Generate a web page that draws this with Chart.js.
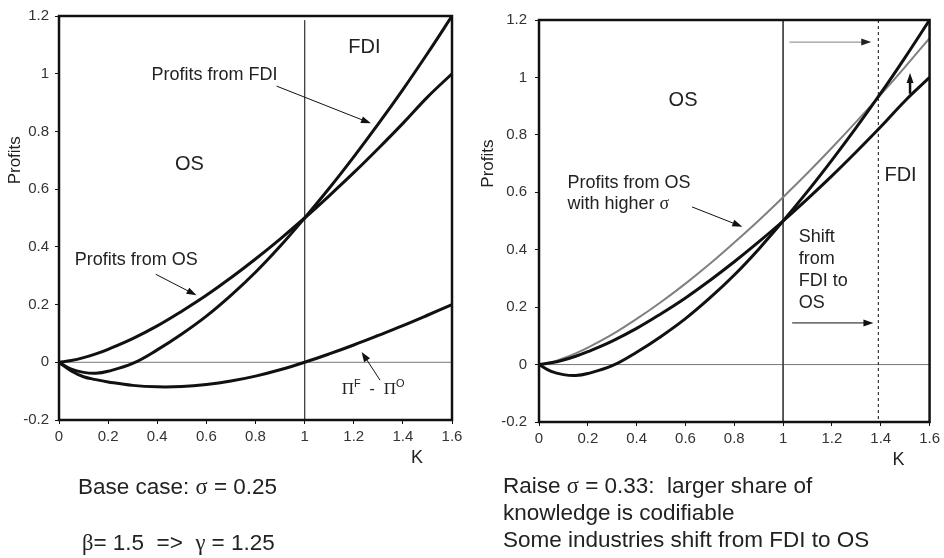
<!DOCTYPE html>
<html>
<head>
<meta charset="utf-8">
<script src="https://cdn.jsdelivr.net/npm/chart.js@4.4.1/dist/chart.umd.min.js"></script>
<style>
  body { margin: 0; background: #fff; width: 944px; height: 558px; overflow: hidden; }
  .panel { position: absolute; top: 0; height: 558px; }
  #left { left: 0; width: 470px; }
  #right { left: 470px; width: 474px; }
</style>
</head>
<body>
<div class="panel" id="left"><canvas id="chartLeft"></canvas></div>
<div class="panel" id="right"><canvas id="chartRight"></canvas></div>
<script>
const kValues     = [0, 0.05, 0.1, 0.15, 0.2, 0.3, 0.4, 0.5, 0.6, 0.7, 0.8, 0.9, 1.0, 1.1, 1.2, 1.3, 1.4, 1.5, 1.6];
const osProfits   = [0, 0.006, 0.016, 0.029, 0.045, 0.082, 0.126, 0.177, 0.232, 0.293, 0.358, 0.427, 0.5, 0.577, 0.657, 0.741, 0.828, 0.919, 1.0];
const fdiProfits  = [0, -0.024, -0.035, -0.038, -0.031, -0.004, 0.043, 0.098, 0.160, 0.232, 0.312, 0.402, 0.5, 0.603, 0.712, 0.826, 0.945, 1.07, 1.2];
const gapProfits  = [0, -0.03, -0.05, -0.06, -0.068, -0.08, -0.085, -0.084, -0.077, -0.065, -0.048, -0.026, 0, 0.029, 0.06, 0.093, 0.127, 0.163, 0.2];
const osHighSigma = [0, 0.008, 0.022, 0.039, 0.059, 0.105, 0.159, 0.218, 0.282, 0.351, 0.425, 0.502, 0.583, 0.667, 0.755, 0.846, 0.94, 1.037, 1.137];

const xTicks = [0, 0.2, 0.4, 0.6, 0.8, 1, 1.2, 1.4, 1.6];
const yTicks = [-0.2, 0, 0.2, 0.4, 0.6, 0.8, 1, 1.2];

const threshold = 1;        // K where FDI and OS profits are equal (base case)
const newThreshold = 1.39;  // K where FDI meets OS with higher sigma

const SANS = '"Liberation Sans", Arial, sans-serif';
const SERIF = '"Liberation Serif", "Times New Roman", serif';

function points(ys) {
    return kValues.map((k, i) => ({ x: k, y: ys[i] }));
}

function curve(ys, color, width) {
    return { data: points(ys), borderColor: color, borderWidth: width, pointRadius: 0, tension: 0.4, fill: false };
}

function refLine(x1, y1, x2, y2, color, dash) {
    return {
        data: [{ x: x1, y: y1 }, { x: x2, y: y2 }],
        borderColor: color, borderWidth: 1, pointRadius: 0, tension: 0,
        borderDash: dash || [], fill: false
    };
}

function drawRuns(ctx, x, y, runs) {
    let cx = x;
    runs.forEach(r => {
        ctx.font = r.font;
        ctx.fillText(r.text, cx, y - (r.raise || 0));
        cx += ctx.measureText(r.text).width;
    });
}

function drawArrow(ctx, x1, y1, x2, y2, color, width, headColor) {
    const ang = Math.atan2(y2 - y1, x2 - x1);
    const len = 10, half = 3.5;
    ctx.strokeStyle = color;
    ctx.lineWidth = width;
    ctx.beginPath();
    ctx.moveTo(x1, y1);
    ctx.lineTo(x2 - Math.cos(ang) * len * 0.8, y2 - Math.sin(ang) * len * 0.8);
    ctx.stroke();
    ctx.fillStyle = headColor || color;
    ctx.beginPath();
    ctx.moveTo(x2, y2);
    ctx.lineTo(x2 - len * Math.cos(ang) + half * Math.sin(ang), y2 - len * Math.sin(ang) - half * Math.cos(ang));
    ctx.lineTo(x2 - len * Math.cos(ang) - half * Math.sin(ang), y2 - len * Math.sin(ang) + half * Math.cos(ang));
    ctx.closePath();
    ctx.fill();
}

// notes: labels and arrows placed in data units, plus axis titles and captions
function makeNotes(cfg) {
    return {
        id: 'notes',
        afterDraw(chart) {
            const ctx = chart.ctx;
            const xs = chart.scales.x, ys = chart.scales.y;
            const area = chart.chartArea;
            ctx.save();

            // frame
            ctx.strokeStyle = '#111';
            ctx.lineWidth = 2.5;
            ctx.strokeRect(area.left, area.top, area.right - area.left, area.bottom - area.top);

            ctx.fillStyle = '#222';
            ctx.textAlign = 'left';
            ctx.textBaseline = 'middle';
            cfg.texts.forEach(t => {
                drawRuns(ctx, xs.getPixelForValue(t.k), ys.getPixelForValue(t.v), t.runs);
            });

            ctx.textBaseline = 'alphabetic';
            (cfg.baseTexts || []).forEach(t => {
                drawRuns(ctx, xs.getPixelForValue(t.k), ys.getPixelForValue(t.v), t.runs);
            });

            cfg.arrows.forEach(a => {
                drawArrow(ctx,
                    xs.getPixelForValue(a.from[0]), ys.getPixelForValue(a.from[1]),
                    xs.getPixelForValue(a.to[0]), ys.getPixelForValue(a.to[1]),
                    a.color || '#111', a.width || 1, a.head);
            });

            // y title
            ctx.fillStyle = '#222';
            ctx.save();
            ctx.translate(cfg.titleX, ys.getPixelForValue(0.7));
            ctx.rotate(-Math.PI / 2);
            ctx.textAlign = 'center';
            ctx.textBaseline = 'middle';
            ctx.font = '17px ' + SANS;
            ctx.fillText('Profits', 0, 0);
            ctx.restore();

            // K label
            ctx.textAlign = 'center';
            ctx.textBaseline = 'middle';
            ctx.font = '18px ' + SANS;
            ctx.fillText('K', area.right - cfg.kOffset, area.bottom + 38);

            // captions below
            ctx.textAlign = 'left';
            ctx.textBaseline = 'alphabetic';
            cfg.captions.forEach(c => drawRuns(ctx, c.x, c.y, c.runs));

            ctx.restore();
        }
    };
}

function buildChart(id, datasets, pad, axisWidth, labelPad, notes) {
    return new Chart(document.getElementById(id), {
        type: 'line',
        data: { datasets: datasets },
        options: {
            responsive: true,
            maintainAspectRatio: false,
            animation: false,
            layout: { padding: pad },
            plugins: { legend: { display: false }, tooltip: { enabled: false } },
            scales: {
                x: {
                    type: 'linear', min: 0, max: 1.6,
                    afterBuildTicks: s => { s.ticks = xTicks.map(v => ({ value: v })); },
                    afterFit: s => { s.height = 30; },
                    grid: { drawOnChartArea: false, drawTicks: true, tickLength: 4, color: '#111' },
                    border: { display: false },
                    ticks: { color: '#333', padding: 4, maxRotation: 0, autoSkip: false,
                             font: { family: SANS, size: 15 }, callback: v => String(v) }
                },
                y: {
                    min: -0.2, max: 1.2,
                    afterBuildTicks: s => { s.ticks = yTicks.map(v => ({ value: v })); },
                    afterFit: s => { s.width = axisWidth; },
                    grid: { drawOnChartArea: false, drawTicks: true, tickLength: 4, color: '#111' },
                    border: { display: false },
                    ticks: { color: '#333', padding: labelPad, autoSkip: false,
                             font: { family: SANS, size: 15 }, callback: v => String(v) }
                }
            }
        },
        plugins: [makeNotes(notes)]
    });
}

const f18 = '18px ' + SANS, f20 = '20px ' + SANS, f22 = '22.5px ' + SANS;
const g18 = '18px ' + SERIF, g22 = '22.5px ' + SERIF;

buildChart('chartLeft', [
    curve(fdiProfits, '#111', 3),
    curve(osProfits, '#111', 3),
    curve(gapProfits, '#111', 3),
    refLine(threshold, 1.185, threshold, -0.2, '#444'),
    refLine(0, 0, 1.6, 0, '#777')
], { left: 0, top: 16, right: 18, bottom: 108 }, 59, 6, {
    titleX: 15, kOffset: 35,
    texts: [
        { k: 1.178, v: 1.09, runs: [{ text: 'FDI', font: f20 }] },
        { k: 0.377, v: 0.996, runs: [{ text: 'Profits from FDI', font: f18 }] },
        { k: 0.472, v: 0.687, runs: [{ text: 'OS', font: f20 }] },
        { k: 0.064, v: 0.356, runs: [{ text: 'Profits from OS', font: f18 }] }
    ],
    baseTexts: [
        { k: 1.151, v: -0.109, runs: [
            { text: '\u03A0', font: '17px ' + SERIF },
            { text: 'F', font: '11px ' + SANS, raise: 7 },
            { text: '  -  ', font: '16px ' + SANS },
            { text: '\u03A0', font: '17px ' + SERIF },
            { text: 'O', font: '11px ' + SANS, raise: 7 }
        ] }
    ],
    arrows: [
        { from: [0.886, 0.957], to: [1.270, 0.828] },
        { from: [0.394, 0.305], to: [0.560, 0.232] },
        { from: [1.307, -0.062], to: [1.232, 0.036] }
    ],
    captions: [
        { x: 78, y: 494, runs: [{ text: 'Base case: ', font: f22 }, { text: '\u03C3', font: g22 }, { text: ' = 0.25', font: f22 }] },
        { x: 82, y: 550, runs: [{ text: '\u03B2', font: g22 }, { text: '= 1.5  =>  ', font: f22 }, { text: '\u03B3', font: g22 }, { text: ' = 1.25', font: f22 }] }
    ]
});

buildChart('chartRight', [
    curve(fdiProfits, '#111', 3),
    curve(osProfits, '#111', 3),
    curve(osHighSigma, '#808080', 2),
    refLine(threshold, 1.2, threshold, -0.2, '#444'),
    refLine(newThreshold, 1.2, newThreshold, -0.2, '#111', [3, 3]),
    refLine(0, 0, 1.6, 0, '#777')
], { left: 0, top: 20, right: 12, bottom: 106 }, 69, 8, {
    titleX: 18, kOffset: 31,
    texts: [
        { k: 0.531, v: 0.921, runs: [{ text: 'OS', font: f20 }] },
        { k: 1.415, v: 0.659, runs: [{ text: 'FDI', font: f20 }] },
        { k: 0.117, v: 0.633, runs: [{ text: 'Profits from OS', font: f18 }] },
        { k: 0.117, v: 0.559, runs: [{ text: 'with higher ', font: f18 }, { text: '\u03C3', font: g18 }] },
        { k: 1.064, v: 0.444, runs: [{ text: 'Shift', font: f18 }] },
        { k: 1.064, v: 0.366, runs: [{ text: 'from', font: f18 }] },
        { k: 1.064, v: 0.290, runs: [{ text: 'FDI to', font: f18 }] },
        { k: 1.064, v: 0.214, runs: [{ text: 'OS', font: f18 }] }
    ],
    arrows: [
        { from: [0.627, 0.549], to: [0.833, 0.480] },
        { from: [1.026, 1.123], to: [1.361, 1.123], color: '#808080', head: '#222' },
        { from: [1.037, 0.145], to: [1.370, 0.145] },
        { from: [1.520, 0.943], to: [1.520, 1.015], width: 2.5 }
    ],
    captions: [
        { x: 33, y: 493, runs: [{ text: 'Raise ', font: f22 }, { text: '\u03C3', font: g22 }, { text: ' = 0.33:  larger share of', font: f22 }] },
        { x: 33, y: 520, runs: [{ text: 'knowledge is codifiable', font: f22 }] },
        { x: 33, y: 547, runs: [{ text: 'Some industries shift from FDI to OS', font: f22 }] }
    ]
});
</script>
</body>
</html>
